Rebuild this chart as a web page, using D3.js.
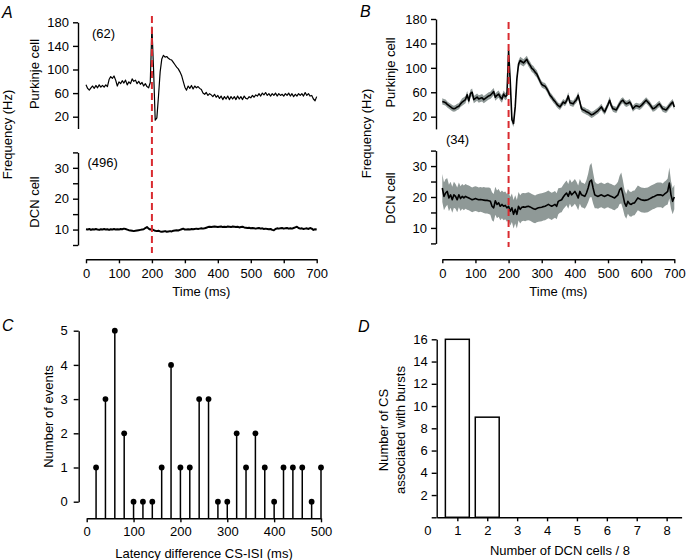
<!DOCTYPE html>
<html><head><meta charset="utf-8">
<script src="https://cdn.jsdelivr.net/npm/d3@7"></script>
<style>
body{margin:0;background:#fff}
svg{display:block}
</style></head><body>
<svg id="c" width="687" height="560"></svg>
<script>
// ---------------- DATA ----------------
const times = [0,5,10,15,20,25,30,35,40,45,50,55,60,65,70,75,80,85,90,95,
100,105,110,115,120,125,130,135,140,145,150,155,160,165,170,175,180,185,190,195,
200,205,210,215,220,225,230,235,240,245,250,255,260,265,270,275,280,285,290,295,
300,305,310,315,320,325,330,335,340,345,350,355,360,365,370,375,380,385,390,395,
400,405,410,415,420,425,430,435,440,445,450,455,460,465,470,475,480,485,490,495,
500,505,510,515,520,525,530,535,540,545,550,555,560,565,570,575,580,585,590,595,
600,605,610,615,620,625,630,635,640,645,650,655,660,665,670,675,680,685,690,695,700];

const purkinjeA = [74,68,65,69,72,68,73,69,74,70,
73,70,74,71,83,88,85,89,82,72,
79,76,81,77,82,74,79,76,84,80,
82,76,80,75,78,72,76,71,69,78,
172,100,14,18,55,96,118,124,121,122,
119,117,116,112,108,104,101,96,90,80,
70,65,72,68,73,67,72,69,71,68,
66,60,58,61,56,59,57,54,58,53,
56,51,55,49,54,50,55,49,54,50,
54,49,55,50,54,49,55,51,50,54,
52,56,53,57,55,59,55,60,57,61,
56,59,55,59,56,60,55,59,56,58,
55,59,56,60,55,59,54,58,55,59,
56,59,55,61,56,59,55,56,50,47,
54];

const dcnA = [10.1,10.0,10.2,9.9,10.1,10.0,10.2,10.0,9.9,10.1,
10.0,10.2,10.0,10.1,9.9,10.1,10.0,10.2,10.0,10.1,
10.0,10.2,10.1,10.3,10.2,10.0,9.8,9.7,9.6,9.5,
9.6,9.7,9.8,9.9,10.0,10.1,10.5,10.8,10.3,10.0,
10.2,9.8,9.6,9.5,9.6,9.4,9.3,9.4,9.5,9.3,
9.4,9.5,9.4,9.6,9.7,9.8,9.7,9.9,10.1,10.3,
10.0,10.0,10.1,10.0,10.2,10.1,10.2,10.3,10.2,10.3,
10.4,10.3,10.4,10.6,10.8,10.9,10.8,10.9,11.0,10.9,
10.8,10.9,11.0,10.8,10.9,10.8,11.0,10.9,10.8,11.0,
10.9,10.8,10.9,10.7,10.8,10.9,10.7,10.6,10.5,10.6,
10.4,10.5,10.4,10.3,10.4,10.5,10.3,10.4,10.2,10.3,
10.2,10.1,10.2,9.9,9.8,10.2,10.4,10.3,10.4,10.5,
10.3,10.4,10.5,10.3,10.4,10.3,10.5,10.7,10.9,10.5,
10.3,10.4,10.2,10.3,10.4,10.2,10.5,10.3,9.9,10.1,
10.0];

const purkinjeB = [45,44,43,40,38,36,34,33,34,36,
37,41,44,46,48,56,46,58,60,48,
50,52,49,50,51,48,50,52,54,55,
58,61,52,55,57,52,49,57,53,55,
128,78,15,9,36,82,106,112,110,108,
111,114,108,104,99,97,93,90,84,78,
73,71,70,66,61,55,52,48,45,41,
38,36,40,44,42,46,54,43,42,41,
45,48,55,44,33,31,30,28,27,25,
23,24,26,28,30,33,36,31,28,34,
40,47,38,33,32,31,36,41,45,47,
43,41,42,44,40,33,36,38,37,36,
38,41,44,47,44,41,37,33,34,36,
39,41,37,33,32,31,34,38,41,44,
36];

const purkinjeBsem = [5,5,5,5,5,5,5,5,5,5,
5,5,6,6,6,6,6,6,6,6,
6,6,6,6,6,6,6,6,6,6,
6,6,6,6,6,6,6,6,6,6,
7,7,6,6,6,6,6,6,6,6,
6,6,6,6,6,6,6,6,5,5,
5,5,5,5,5,5,5,5,5,5,
5,5,5,5,5,5,6,5,5,5,
5,5,6,5,5,5,5,5,5,5,
5,5,5,5,5,5,5,5,5,5,
5,6,5,5,5,5,5,5,5,5,
5,5,5,5,5,5,5,5,5,5,
5,5,5,5,5,5,5,5,5,5,
5,5,5,5,5,5,5,5,5,5,
5];

const dcnB = [22.9,20.2,21.3,21.8,19.7,20.7,19.1,20.7,20.2,19.1,
20.7,19.5,20.2,19.7,20.2,19.9,19.7,19.4,19.1,19.3,
19.5,19.3,19.1,19.2,19.1,19.0,18.9,18.9,18.8,18.6,
17.0,16.5,18.8,17.6,18.1,17.0,17.6,17.0,17.3,16.5,
17.0,15.4,16.5,14.4,16.0,14.4,17.0,16.0,16.7,16.8,
16.7,16.9,17.0,16.8,16.5,16.2,16.0,16.3,16.5,16.6,
16.7,16.9,17.0,17.3,17.6,17.3,17.0,17.3,17.6,17.0,
18.6,18.9,19.1,20.0,20.7,21.3,20.2,21.8,20.7,21.2,
21.8,20.9,19.7,21.8,20.7,20.5,20.2,21.3,22.9,25.0,
25.5,22.9,20.7,20.4,20.2,20.5,20.7,20.4,20.2,20.5,
20.7,20.4,20.2,19.9,19.7,20.2,20.7,22.3,22.9,20.7,
18.1,17.0,18.6,17.8,17.6,18.0,18.1,18.9,19.7,19.4,
19.1,19.0,18.9,19.0,19.1,19.4,19.7,20.0,20.2,20.5,
20.7,20.7,20.7,20.4,20.9,21.3,21.8,24.5,20.7,18.6,
20.0];

const dcnBsem = [4.5,4.5,4.5,4.3,4.3,4.2,4.2,4.2,4.0,4.0,
4.0,4.0,4.0,4.0,4.0,4.0,4.0,4.0,4.0,4.0,
4.0,4.0,4.0,4.0,4.0,4.2,4.2,4.2,4.3,4.3,
4.5,4.5,4.5,4.5,4.5,4.5,4.5,4.5,4.5,4.5,
4.6,4.6,4.6,4.6,4.6,4.6,4.6,4.6,4.5,4.5,
4.5,4.5,4.5,4.5,4.5,4.5,4.5,4.5,4.5,4.5,
4.5,4.5,4.5,4.5,4.5,4.4,4.4,4.3,4.3,4.2,
4.2,4.0,4.0,4.0,4.0,4.0,4.0,4.0,4.0,4.0,
4.0,4.0,4.0,4.0,4.0,4.0,4.0,4.2,4.6,5.2,
5.5,5.0,4.3,4.0,4.0,4.0,4.0,4.0,4.0,4.0,
4.0,4.0,4.0,4.0,4.0,4.0,4.2,4.6,5.0,4.6,
4.2,4.0,4.0,4.0,4.0,4.0,4.0,4.0,4.0,4.0,
4.0,4.0,4.0,4.0,4.0,4.0,4.0,4.0,4.0,4.0,
4.0,4.0,4.0,4.0,4.0,4.0,4.2,5.0,4.5,4.2,
4.0];

const latencyBins = [20,40,60,80,100,120,140,160,180,200,220,240,260,280,300,320,340,360,380,400,420,440,460,480,500];
const latencyCounts = [1,3,5,2,0,0,0,1,4,1,1,3,3,0,0,2,1,2,1,0,1,1,1,0,1];

const dcnCells = [1,2];
const csCounts = [16,9];

const stimTime = 200;
const timeTicks = [0,100,200,300,400,500,600,700];
const purkinjeTicks = [20,60,100,140,180];
const dcnTicks = [5,10,15,20,25,30,35];
const dcnTickLabels = [10,20,30];
const latencyTicks = [0,100,200,300,400,500];
const eventTicks = [0,1,2,3,4,5];
const cellTicks = [0,1,2,3,4,5,6,7,8];
const csTicks = [0,2,4,6,8,10,12,14,16];
const csTickLabels = [2,4,6,8,10,12,14,16];

// ---------------- DRAW ----------------
const FONT = '"Liberation Sans", Arial, Helvetica, sans-serif';
const svg = d3.select("#c").attr("font-family", FONT);
const RED = "#d92b30", BAND = "#8f9997";
const fmtInt = d3.format("d");

function styleAxis(g){
  g.attr("font-family", FONT).attr("font-size", 13);
  g.selectAll("path.domain").attr("stroke", "#000").attr("stroke-width", 1.4);
  g.selectAll(".tick line").attr("stroke", "#000").attr("stroke-width", 1.4);
  g.selectAll(".tick text").attr("fill", "#000");
  return g;
}
function vtext(x, y, s){
  svg.append("text").attr("transform", `translate(${x},${y}) rotate(-90)`)
    .attr("text-anchor", "middle").attr("font-size", 13).attr("fill", "#000").text(s);
}
function htext(x, y, s, anchor, size, italic){
  svg.append("text").attr("x", x).attr("y", y).attr("text-anchor", anchor || "start")
    .attr("font-size", size || 13).attr("font-style", italic ? "italic" : null)
    .attr("fill", "#000").text(s);
}

function tracePanel(cfg){
  const x = d3.scaleLinear().domain([0, 700]).range(cfg.xr);
  const yP = d3.scaleLinear().domain([0, 180]).range(cfg.pr);
  const yD = d3.scaleLinear().domain([5, 35]).range(cfg.dr);

  styleAxis(svg.append("g").attr("transform", `translate(${cfg.ax},0)`)
    .call(d3.axisLeft(yP).tickValues(purkinjeTicks).tickFormat(fmtInt).tickSize(5).tickPadding(4).tickSizeOuter(0)));
  styleAxis(svg.append("g").attr("transform", `translate(${cfg.ax},0)`)
    .call(d3.axisLeft(yD).tickValues(dcnTicks).tickSize(5).tickPadding(4).tickSizeOuter(0)
      .tickFormat(d => dcnTickLabels.includes(d) ? fmtInt(d) : "")));
  styleAxis(svg.append("g").attr("transform", `translate(0,${cfg.xy})`)
    .call(d3.axisBottom(x).tickValues(timeTicks).tickFormat(fmtInt).tickSize(4).tickPadding(5).tickSizeOuter(0)));

  if (cfg.pSem) {
    svg.append("path").datum(times.map((t, i) => [t, cfg.p[i], cfg.pSem[i]]))
      .attr("fill", BAND).attr("stroke", "none")
      .attr("d", d3.area().x(d => x(d[0])).y0(d => yP(d[1] - d[2])).y1(d => yP(d[1] + d[2])));
  }
  if (cfg.dSem) {
    svg.append("path").datum(times.map((t, i) => [t, cfg.d[i], cfg.dSem[i]]))
      .attr("fill", BAND).attr("stroke", "none")
      .attr("d", d3.area().x(d => x(d[0])).y0(d => yD(d[1] - d[2])).y1(d => yD(d[1] + d[2])));
  }
  svg.append("path").datum(times.map((t, i) => [t, cfg.p[i]]))
    .attr("fill", "none").attr("stroke", "#000").attr("stroke-width", cfg.pw)
    .attr("stroke-linejoin", "round")
    .attr("d", d3.line().x(d => x(d[0])).y(d => yP(d[1])));
  svg.append("path").datum(times.map((t, i) => [t, cfg.d[i]]))
    .attr("fill", "none").attr("stroke", "#000").attr("stroke-width", cfg.dw)
    .attr("stroke-linejoin", "round")
    .attr("d", d3.line().x(d => x(d[0])).y(d => yD(d[1])));

  svg.append("line").attr("x1", x(stimTime)).attr("x2", x(stimTime))
    .attr("y1", cfg.r1).attr("y2", cfg.r2)
    .attr("stroke", RED).attr("stroke-width", 2).attr("stroke-dasharray", "7,4");

  htext(cfg.lx, cfg.ly, cfg.letter, "start", 16, true);
  if (cfg.n1) htext(cfg.n1x, cfg.n1y, cfg.n1);
  htext(cfg.n2x, cfg.n2y, cfg.n2);
  vtext(cfg.fx, cfg.fy, "Frequency (Hz)");
  vtext(cfg.cx, cfg.pcy, "Purkinje cell");
  vtext(cfg.cx, cfg.dcy, "DCN cell");
  htext((cfg.xr[0] + cfg.xr[1]) / 2, 296, "Time (ms)", "middle");
}

tracePanel({
  xr: [86, 316.7], pr: [128.5, 22.3], dr: [245, 152.4], ax: 78, xy: 259.3,
  p: purkinjeA, d: dcnA, pw: 1.2, dw: 2,
  r1: 16, r2: 253,
  letter: "A", lx: 2, ly: 18.3,
  n1: "(62)", n1x: 92, n1y: 37.5, n2: "(496)", n2x: 87.5, n2y: 166.5,
  fx: 12, fy: 134.5, cx: 39, pcy: 74, dcy: 202
});
tracePanel({
  xr: [442.3, 674.3], pr: [128.9, 19], dr: [243.4, 150.6], ax: 436, xy: 259.3,
  p: purkinjeB, d: dcnB, pSem: purkinjeBsem, dSem: dcnBsem, pw: 1.6, dw: 1.6,
  r1: 22, r2: 247,
  letter: "B", lx: 360, ly: 16.7,
  n1: "", n1x: 0, n1y: 0, n2: "(34)", n2x: 446, n2y: 143.5,
  fx: 370.5, fy: 133.5, cx: 395, pcy: 72.5, dcy: 198
});

// ---------- Panel C ----------
{
  const x = d3.scaleLinear().domain([0, 500]).range([86.7, 321]);
  const y = d3.scaleLinear().domain([0, 5]).range([501.7, 330.7]);
  const axisY = 518.3;
  styleAxis(svg.append("g").attr("transform", "translate(78.7,0)")
    .call(d3.axisLeft(y).tickValues(eventTicks).tickFormat(fmtInt).tickSize(5).tickPadding(6).tickSizeOuter(0)));
  styleAxis(svg.append("g").attr("transform", `translate(0,${axisY})`)
    .call(d3.axisBottom(x).tickValues(latencyTicks).tickFormat(fmtInt).tickSize(4).tickPadding(4).tickSizeOuter(0)));
  const pts = latencyBins.map((b, i) => [b, latencyCounts[i]]);
  svg.append("g").selectAll("line").data(pts).join("line")
    .attr("x1", d => x(d[0])).attr("x2", d => x(d[0]))
    .attr("y1", axisY).attr("y2", d => y(d[1]))
    .attr("stroke", "#000").attr("stroke-width", 1.5);
  svg.append("g").selectAll("circle").data(pts).join("circle")
    .attr("cx", d => x(d[0])).attr("cy", d => y(d[1])).attr("r", 2.9).attr("fill", "#000");
  htext(2, 330.7, "C", "start", 16, true);
  vtext(53, 416.5, "Number of events");
  htext(204, 558, "Latency difference CS-ISI (ms)", "middle");
}

// ---------- Panel D ----------
{
  const x = d3.scaleLinear().domain([0.31, 8.5]).range([436.7, 681.6]);
  const y = d3.scaleLinear().domain([0, 16]).range([517.3, 339.3]);
  styleAxis(svg.append("g").attr("transform", "translate(436.7,0)")
    .call(d3.axisLeft(y).tickValues(csTicks).tickSize(5).tickPadding(4).tickSizeOuter(0)
      .tickFormat(d => csTickLabels.includes(d) ? fmtInt(d) : "")));
  const gx = styleAxis(svg.append("g").attr("transform", "translate(0,517.3)")
    .call(d3.axisBottom(x).tickValues(cellTicks).tickFormat(fmtInt).tickSize(4).tickPadding(4).tickSizeOuter(0)));
  gx.selectAll(".tick").filter(d => d === 0).select("line").remove();
  svg.append("g").selectAll("rect").data(dcnCells.map((c, i) => [c, csCounts[i]])).join("rect")
    .attr("x", d => x(d[0] - 0.4)).attr("width", d => x(d[0] + 0.4) - x(d[0] - 0.4))
    .attr("y", d => y(d[1])).attr("height", d => y(0) - y(d[1]))
    .attr("fill", "#fff").attr("stroke", "#000").attr("stroke-width", 1.5);
  htext(358, 331.7, "D", "start", 16, true);
  vtext(388, 430, "Number of CS");
  vtext(405, 430, "associated with bursts");
  htext(560, 554.5, "Number of DCN cells / 8", "middle");
}
</script>
</body></html>
